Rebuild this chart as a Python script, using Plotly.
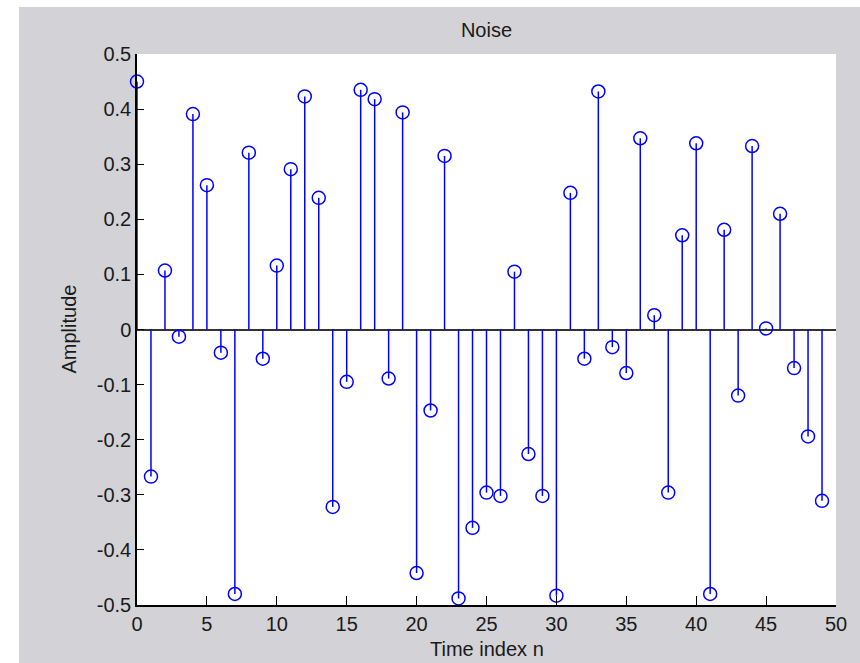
import plotly.graph_objects as go

# ---- data ----
n_index = list(range(50))
amplitude = [
    0.450, -0.267, 0.107, -0.013, 0.391, 0.262, -0.042, -0.480, 0.321, -0.053,
    0.116, 0.291, 0.423, 0.239, -0.322, -0.095, 0.435, 0.418, -0.089, 0.394,
    -0.442, -0.147, 0.315, -0.488, -0.360, -0.296, -0.302, 0.105, -0.226, -0.302,
    -0.483, 0.248, -0.053, 0.432, -0.032, -0.079, 0.347, 0.026, -0.296, 0.171,
    0.338, -0.480, 0.181, -0.120, 0.333, 0.002, 0.210, -0.070, -0.194, -0.311,
]
x_ticks = [0, 5, 10, 15, 20, 25, 30, 35, 40, 45, 50]
x_tick_labels = ["0", "5", "10", "15", "20", "25", "30", "35", "40", "45", "50"]
y_ticks = [0.5, 0.4, 0.3, 0.2, 0.1, 0, -0.1, -0.2, -0.3, -0.4, -0.5]
y_tick_labels = ["0.5", "0.4", "0.3", "0.2", "0.1", "0", "-0.1", "-0.2", "-0.3", "-0.4", "-0.5"]
title_text = "Noise"
x_label = "Time index n"
y_label = "Amplitude"

BLUE = "#0000ff"
GRAY = "#d3d2d6"
TXT = "#1a1a1a"
FONT = "Liberation Sans, Arial, sans-serif"
FS = 20

# stems built from the data arrays
stem_x, stem_y = [], []
for n, a in zip(n_index, amplitude):
    stem_x += [n, n, None]
    stem_y += [0, a, None]

fig = go.Figure()
fig.add_trace(go.Scatter(x=stem_x, y=stem_y, mode="lines",
                         line=dict(color=BLUE, width=1.5),
                         hoverinfo="skip", showlegend=False))
fig.add_trace(go.Scatter(x=n_index, y=amplitude, mode="markers",
                         marker=dict(symbol="circle-open", size=13,
                                     color=BLUE, line=dict(color=BLUE, width=1.5)),
                         cliponaxis=False, showlegend=False))

fig.update_layout(
    width=860, height=663,
    margin=dict(l=137, r=24, t=54, b=58, pad=0),
    paper_bgcolor=GRAY, plot_bgcolor="white",
    font=dict(family=FONT, size=FS, color=TXT),
    title=dict(text=title_text, x=0.5, xref="paper", y=1 - 29.5 / 663,
               yref="container", xanchor="center", yanchor="middle",
               font=dict(family=FONT, size=FS, color=TXT)),
    showlegend=False,
)
fig.update_xaxes(range=[0, 50], tickvals=x_ticks, ticktext=x_tick_labels,
                 ticks="inside", ticklen=9, tickwidth=1, tickcolor="black",
                 showline=True, linecolor="black", linewidth=1.5, mirror=False,
                 showgrid=False, zeroline=False,
                 tickfont=dict(family=FONT, size=FS, color=TXT))
fig.update_yaxes(range=[-0.5, 0.5], tickvals=y_ticks, ticktext=y_tick_labels,
                 ticks="inside", ticklen=7, tickwidth=1, tickcolor="black",
                 showline=True, linecolor="black", linewidth=1.5, mirror=False,
                 showgrid=False, zeroline=True, zerolinecolor="#333333",
                 zerolinewidth=1.5,
                 tickfont=dict(family=FONT, size=FS, color=TXT))

# axis labels
fig.add_annotation(text=x_label, xref="paper", yref="paper", x=0.5,
                   y=(605 - 649) / 551, xanchor="center", yanchor="middle",
                   showarrow=False, font=dict(family=FONT, size=FS, color=TXT))
fig.add_annotation(text=y_label, xref="paper", yref="paper",
                   x=(68 - 137) / 699, y=0.5, textangle=-90,
                   xanchor="center", yanchor="middle",
                   showarrow=False, font=dict(family=FONT, size=FS, color=TXT))

# white strips outside the gray figure window (left and top)
fig.add_shape(type="rect", xref="paper", yref="paper",
              x0=-137 / 699 - 0.01, x1=(19 - 137) / 699,
              y0=-0.2, y1=1.2, fillcolor="white", line=dict(width=0))
fig.add_shape(type="rect", xref="paper", yref="paper",
              x0=-0.3, x1=1.2, y0=(605 - 7) / 551, y1=1.2,
              fillcolor="white", line=dict(width=0))

fig.write_html("out.html", config={"displayModeBar": False},
               post_script="document.body.style.margin='0';document.body.style.overflow='hidden';")
